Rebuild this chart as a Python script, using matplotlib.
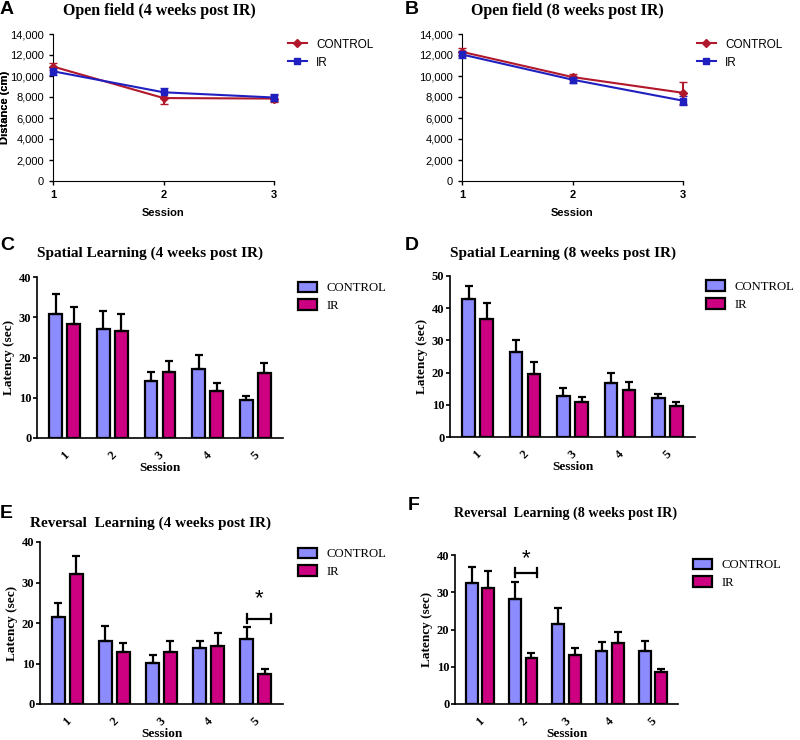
import numpy as np
import matplotlib
matplotlib.use("Agg")
from matplotlib import pyplot as plt
from matplotlib.lines import Line2D

# ---- data ----
sessions3 = [1, 2, 3]
sessions5 = [1, 2, 3, 4, 5]

a_ctrl     = [10900, 7900, 7850]
a_ctrl_err = [350, 550, 350]
a_ir       = [10450, 8450, 7950]
a_ir_err   = [400, 450, 300]

b_ctrl     = [12300, 9900, 8400]
b_ctrl_err = [350, 300, 1050]
b_ir       = [12050, 9650, 7650]
b_ir_err   = [300, 300, 450]

c_ctrl     = [30.8, 27.2, 14.2, 17.2, 9.4]
c_ctrl_err = [4.9, 4.4, 2.3, 3.5, 1.0]
c_ir       = [28.3, 26.6, 16.5, 11.6, 16.2]
c_ir_err   = [4.3, 4.2, 2.7, 2.0, 2.5]

d_ctrl     = [43.0, 26.5, 12.8, 16.7, 12.2]
d_ctrl_err = [3.8, 3.5, 2.4, 3.2, 1.3]
d_ir       = [36.6, 19.6, 11.0, 14.5, 9.7]
d_ir_err   = [4.9, 3.7, 1.5, 2.6, 1.3]

e_ctrl     = [21.4, 15.6, 10.2, 13.9, 16.1]
e_ctrl_err = [3.6, 3.7, 1.8, 1.6, 2.8]
e_ir       = [32.0, 12.8, 12.8, 14.4, 7.5]
e_ir_err   = [4.6, 2.2, 2.7, 3.1, 1.1]

f_ctrl     = [32.4, 28.1, 21.6, 14.3, 14.3]
f_ctrl_err = [4.5, 4.7, 4.3, 2.4, 2.7]
f_ir       = [31.1, 12.3, 13.1, 16.3, 8.6]
f_ir_err   = [4.6, 1.5, 1.8, 3.1, 0.7]

RED  = '#b2182b'
BLUE = '#2020c0'
BAR_CTRL = '#8c8cff'
BAR_IR   = '#cc0080'
SERIF = 'Liberation Serif'
SANS  = 'Liberation Sans'

fig = plt.figure(figsize=(8, 7.4), dpi=100)

def W(x): return x/800.0
def H(y): return 1 - y/740.0

def line_panel(left, ctrl, ctrl_err, ir, ir_err, title, letter, tx, lx, legx):
    ax = fig.add_axes([W(left), H(181), W(221), H(34) - H(181)])
    ax.errorbar(sessions3, ctrl, yerr=ctrl_err, color=RED, marker='D', ms=4,
                lw=1.5, capsize=3, elinewidth=1.5, zorder=3, clip_on=False)
    ax.errorbar(sessions3, ir, yerr=ir_err, color=BLUE, marker='s', ms=5,
                lw=1.5, capsize=3, elinewidth=1.5, zorder=3, clip_on=False)
    ax.set_xlim(1, 3)
    ax.set_ylim(0, 14000)
    ax.set_xticks(sessions3)
    ax.set_yticks(np.arange(0, 14001, 2000))
    ax.set_yticklabels(['{:,}'.format(v) for v in range(0, 14001, 2000)])
    for s in ['top', 'right']:
        ax.spines[s].set_visible(False)
    ax.tick_params(labelsize=8, length=3, width=1)
    for t in ax.get_xticklabels():
        t.set_fontweight('bold')
    for t in ax.get_xticklabels() + ax.get_yticklabels():
        t.set_family(SANS)
    ax.set_xlabel('Session', family=SANS, fontweight='bold', fontsize=8, labelpad=6)
    ax.set_ylabel('Distance (cm)', family=SANS, fontweight='bold', fontsize=8)
    ax.yaxis.set_label_coords((10 - left) / 221.0, 0.5)
    fig.text(W(tx), H(11), title, family=SERIF, fontweight='bold', fontsize=11.5,
             ha='center', va='center')
    fig.text(W(lx), H(10), letter, family=SANS, fontweight='bold', fontsize=14,
             ha='left', va='center')
    handles = [Line2D([], [], color=RED, marker='D', ms=4, lw=1.5),
               Line2D([], [], color=BLUE, marker='s', ms=5, lw=1.5)]
    ax.legend(handles, ['CONTROL', 'IR'], loc='upper left',
              bbox_to_anchor=(W(legx), H(28)),
              bbox_transform=fig.transFigure, frameon=False,
              prop={'family': SANS, 'size': 8.5}, handlelength=1.6,
              labelspacing=0.5, numpoints=1)
    return ax

def bar_panel(rect, ctrl, ctrl_err, ir, ir_err, ymax, title, tx, ty, tsize,
              letter, lx, ly, legx, legy):
    ax = fig.add_axes(rect)
    x = np.array(sessions5)
    w = 0.27
    ax.bar(x - 0.19, ctrl, w, color=BAR_CTRL, edgecolor='black', lw=1.6,
           yerr=[np.zeros(5), ctrl_err], capsize=3,
           error_kw={'elinewidth': 1.6, 'capthick': 1.6}, label='CONTROL', zorder=2)
    ax.bar(x + 0.19, ir, w, color=BAR_IR, edgecolor='black', lw=1.6,
           yerr=[np.zeros(5), ir_err], capsize=3,
           error_kw={'elinewidth': 1.6, 'capthick': 1.6}, label='IR', zorder=2)
    ax.set_xlim(0.42, 5.58)
    ax.set_ylim(0, ymax)
    ax.set_yticks(np.arange(0, ymax + 1, 10))
    ax.set_xticks(x)
    ax.set_xticklabels([str(s) for s in sessions5], rotation=45, ha='center')
    for s in ['top', 'right']:
        ax.spines[s].set_visible(False)
    for s in ['left', 'bottom']:
        ax.spines[s].set_linewidth(1.2)
    ax.tick_params(axis='x', length=0, labelsize=9, pad=8)
    ax.tick_params(axis='y', length=3, width=1.2, labelsize=9, pad=1)
    for t in ax.get_xticklabels() + ax.get_yticklabels():
        t.set_family(SERIF)
        t.set_fontweight('bold')
    ax.set_xlabel('Session', family=SERIF, fontweight='bold', fontsize=9.5, labelpad=0)
    ax.set_ylabel('Latency (sec)', family=SERIF, fontweight='bold', fontsize=9.5, labelpad=3)
    fig.text(W(tx), H(ty), title, family=SERIF, fontweight='bold', fontsize=tsize,
             ha='center', va='center')
    fig.text(W(lx), H(ly), letter, family=SANS, fontweight='bold', fontsize=14,
             ha='left', va='center')
    ax.legend(loc='upper left', bbox_to_anchor=(W(legx), H(legy)),
              bbox_transform=fig.transFigure, frameon=False,
              prop={'family': SERIF, 'size': 9.2}, handlelength=1.5,
              handleheight=0.9, labelspacing=0.4)
    return ax

def sig_bracket(ax, s, y, star_off):
    x0 = s - 0.19
    x1 = s + 0.19 + 0.135
    ax.plot([x0, x1], [y, y], color='black', lw=1.6)
    ax.plot([x0, x0], [y - 1.2, y + 1.2], color='black', lw=1.6)
    ax.plot([x1, x1], [y - 1.2, y + 1.2], color='black', lw=1.6)
    ax.text((x0 + x1) / 2, y + star_off, '*', ha='center', va='bottom',
            fontsize=16, family=SANS)

line_panel(53, a_ctrl, a_ctrl_err, a_ir, a_ir_err,
           'Open field (4 weeks post IR)', 'A', 159, 0, 277)
line_panel(462, b_ctrl, b_ctrl_err, b_ir, b_ir_err,
           'Open field (8 weeks post IR)', 'B', 567, 405, 686)

bar_panel([W(37), H(438), W(246), H(277) - H(438)], c_ctrl, c_ctrl_err, c_ir, c_ir_err, 40,
          'Spatial Learning (4 weeks post IR)', 150, 253, 11, 'C', 0, 245, 286, 270)
bar_panel([W(450), H(437), W(245), H(276) - H(437)], d_ctrl, d_ctrl_err, d_ir, d_ir_err, 50,
          'Spatial Learning (8 weeks post IR)', 563, 253, 11, 'D', 405, 245, 694, 269)
ax_e = bar_panel([W(40), H(704), W(243), H(542) - H(704)], e_ctrl, e_ctrl_err, e_ir, e_ir_err, 40,
                 'Reversal  Learning (4 weeks post IR)', 150, 523, 11, 'E', 0, 514, 286, 536)
ax_f = bar_panel([W(455), H(704), W(223), H(555) - H(704)], f_ctrl, f_ctrl_err, f_ir, f_ir_err, 40,
                 'Reversal  Learning (8 weeks post IR)', 566, 513, 10.2, 'F', 408, 505, 681, 547)
sig_bracket(ax_e, 5, 21.1, 2.2)
sig_bracket(ax_f, 2, 35.3, 0.8)

fig.savefig('out.png', dpi=100)
